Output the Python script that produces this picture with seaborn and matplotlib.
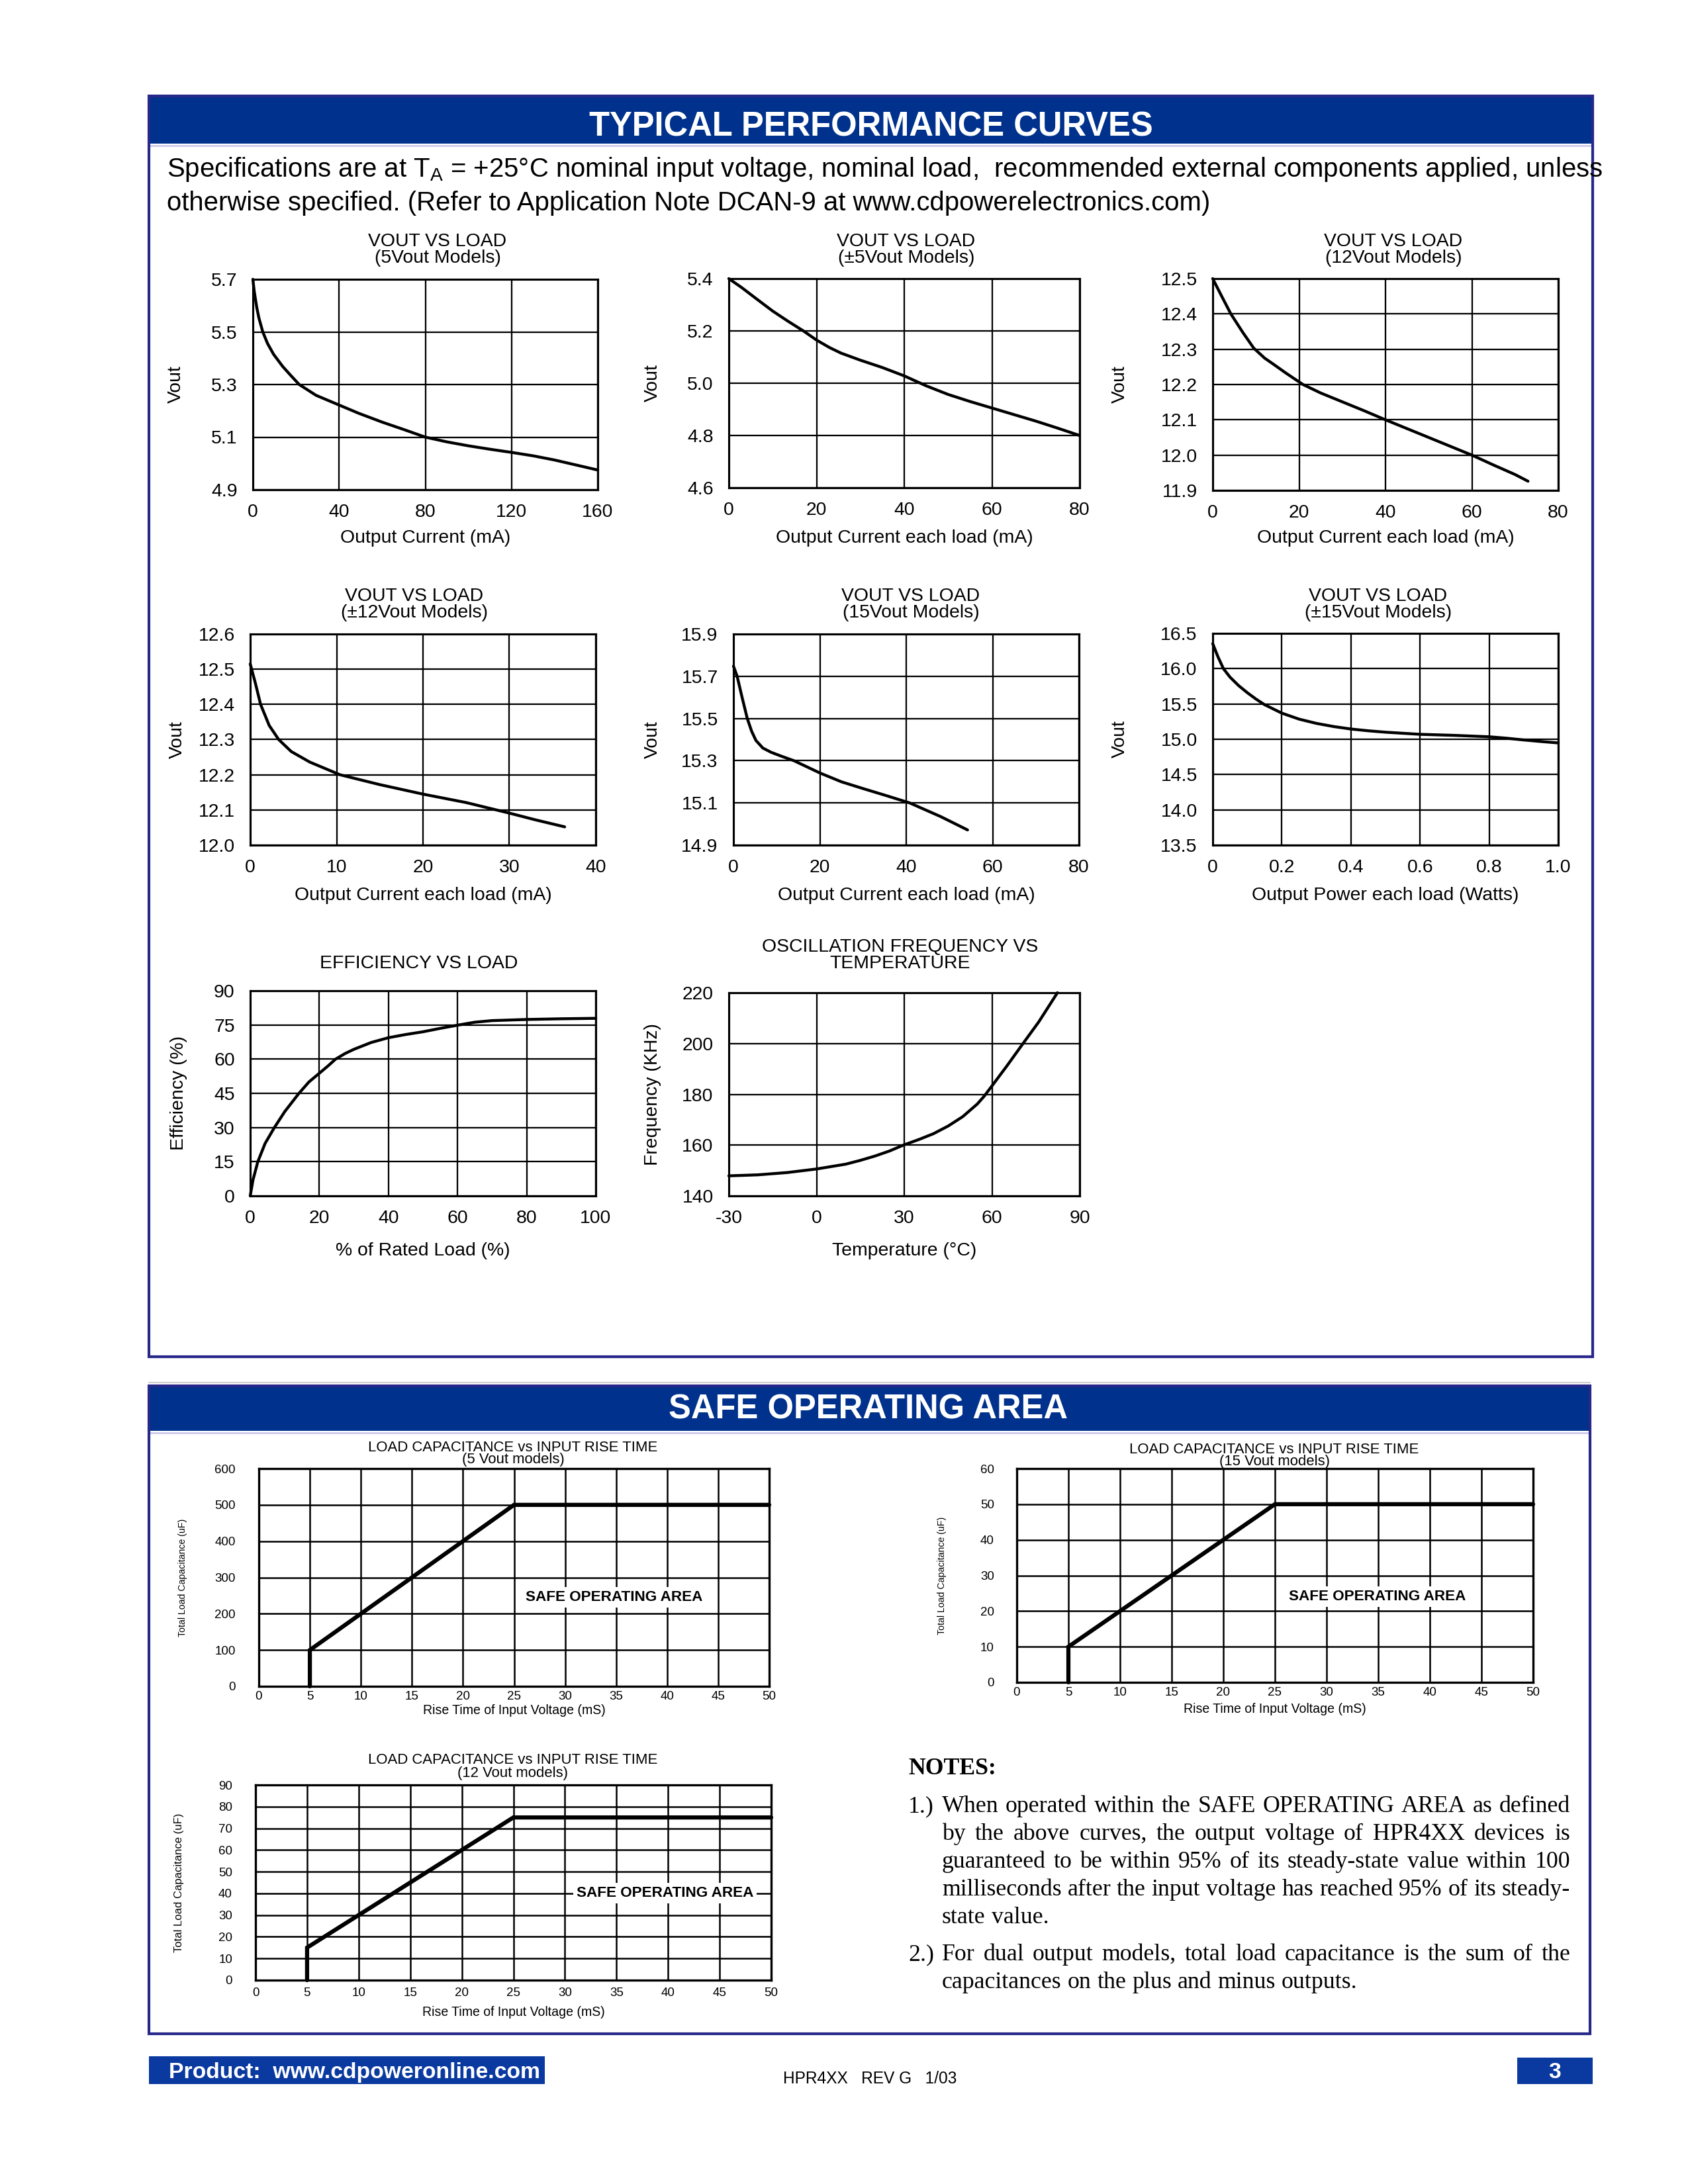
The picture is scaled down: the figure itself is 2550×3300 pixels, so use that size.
import matplotlib
matplotlib.use("Agg")
import matplotlib.pyplot as plt
from matplotlib.patches import Rectangle
from matplotlib.lines import Line2D
import seaborn as sns
import pandas as pd

# ---------------- data ----------------
# VOUT VS LOAD (5Vout Models)
v5_current = [0, 0.6, 1.8, 2.8, 4.6, 6.8, 9.6, 13.8, 17.3, 21.5, 29.3, 40, 49, 60, 70, 80,
              90, 100, 110, 120, 130, 140, 150, 160]
v5_vout = [5.70, 5.656, 5.593, 5.553, 5.50, 5.456, 5.415, 5.369, 5.337, 5.30, 5.259, 5.222,
           5.191, 5.157, 5.129, 5.10, 5.082, 5.067, 5.054, 5.042, 5.029, 5.013, 4.994, 4.975]

# VOUT VS LOAD (±5Vout Models)
d5_current = [0, 3, 6.2, 10, 13.5, 17, 20, 23, 25.6, 30, 35, 40, 45, 50, 55, 60, 65, 70, 75, 80]
d5_vout = [5.40, 5.365, 5.324, 5.276, 5.237, 5.20, 5.165, 5.136, 5.115, 5.088, 5.060, 5.028,
           4.99, 4.957, 4.93, 4.905, 4.88, 4.855, 4.828, 4.80]

# VOUT VS LOAD (12Vout Models)
v12_current = [0, 2, 4.2, 7, 9.5, 12, 14, 17, 20.9, 25, 30, 35, 40, 45, 50, 55, 60, 65, 70, 73]
v12_vout = [12.5, 12.452, 12.4, 12.347, 12.303, 12.275, 12.258, 12.232, 12.2, 12.176, 12.151,
            12.126, 12.1, 12.075, 12.05, 12.025, 12.0, 11.972, 11.945, 11.926]

# VOUT VS LOAD (±12Vout Models)
d12_current = [0, 0.6, 1.2, 2.2, 3.3, 4.75, 6.9, 10.4, 15, 20, 25, 28.5, 30, 33, 36.4]
d12_vout = [12.515, 12.46, 12.40, 12.34, 12.30, 12.266, 12.236, 12.20, 12.172, 12.145, 12.121,
            12.10, 12.091, 12.072, 12.052]

# VOUT VS LOAD (15Vout Models)
v15_current = [0, 0.85, 2, 3.2, 4.2, 5.2, 6.8, 8.7, 11, 14, 20, 25, 30, 35, 40.8, 48, 54.2]
v15_vout = [15.748, 15.70, 15.60, 15.50, 15.44, 15.396, 15.36, 15.34, 15.322, 15.30, 15.242,
            15.20, 15.168, 15.137, 15.10, 15.035, 14.972]

# VOUT VS LOAD (±15Vout Models)
d15_power = [0, 0.015, 0.031, 0.05, 0.075, 0.1, 0.125, 0.15, 0.2, 0.25, 0.3, 0.35, 0.4, 0.45,
             0.5, 0.6, 0.7, 0.8, 0.85, 0.9, 0.95, 1.0]
d15_vout = [16.355, 16.17, 16.0, 15.88, 15.76, 15.66, 15.57, 15.49, 15.37, 15.285, 15.225, 15.18,
            15.145, 15.12, 15.10, 15.07, 15.055, 15.035, 15.015, 14.99, 14.968, 14.948]

# EFFICIENCY VS LOAD
eff_load = [0, 0.8, 2.2, 4.3, 7, 10, 14.1, 17, 20, 22.5, 24.7, 27.5, 30, 35, 40, 45, 50, 55,
            60.4, 65, 70, 80, 90, 100]
eff_pct = [0, 7, 15, 23, 30, 37, 45, 50, 53.8, 57, 60, 62.5, 64.3, 67.3, 69.4, 70.8, 72, 73.5,
           75, 76.2, 76.9, 77.4, 77.7, 77.9]

# OSCILLATION FREQUENCY VS TEMPERATURE
osc_temp = [-30, -20, -10, 0, 10, 15, 20, 25, 29.7, 35, 40, 45, 50, 55, 57.3, 60, 65, 70, 76, 82.4]
osc_freq = [147.9, 148.3, 149.2, 150.6, 152.5, 154, 155.7, 157.7, 160, 162.2, 164.5, 167.5, 171.2,
            176.2, 179.2, 183.3, 191, 199, 208.5, 220]

# SAFE OPERATING AREA
soa_time = [5, 5, 25, 50]
soa5_cap = [0, 100, 500, 500]
soa15_cap = [0, 10, 50, 50]
soa12_cap = [0, 15, 75, 75]

# tick values / labels
t1_x = [0, 40, 80, 120, 160]
t1_y = [4.9, 5.1, 5.3, 5.5, 5.7]
t2_x = [0, 20, 40, 60, 80]
t2_y = [4.6, 4.8, 5.0, 5.2, 5.4]
t3_y = [11.9, 12.0, 12.1, 12.2, 12.3, 12.4, 12.5]
t4_x = [0, 10, 20, 30, 40]
t4_y = [12.0, 12.1, 12.2, 12.3, 12.4, 12.5, 12.6]
t5_y = [14.9, 15.1, 15.3, 15.5, 15.7, 15.9]
t6_x = [0, 0.2, 0.4, 0.6, 0.8, 1.0]
t6_xl = ["0", "0.2", "0.4", "0.6", "0.8", "1.0"]
t6_y = [13.5, 14.0, 14.5, 15.0, 15.5, 16.0, 16.5]
t7_x = [0, 20, 40, 60, 80, 100]
t7_y = [0, 15, 30, 45, 60, 75, 90]
t8_x = [-30, 0, 30, 60, 90]
t8_y = [140, 160, 180, 200, 220]
soa_x = list(range(0, 55, 5))
soa5_y = list(range(0, 700, 100))
soa15_y = list(range(0, 70, 10))
soa12_y = list(range(0, 100, 10))

notes_1 = ["When operated within the SAFE OPERATING  AREA as defined",
           "by the above curves, the output voltage of HPR4XX devices is",
           "guaranteed to be within 95% of its steady-state value within 100",
           "milliseconds after the input voltage has reached 95% of its steady-",
           "state value."]
notes_2 = ["For dual output models, total load capacitance is the sum of the",
           "capacitances on the plus and minus outputs."]

# ---------------- style ----------------
sns.set_theme(style="white")
plt.rcParams['font.family'] = ['Liberation Sans', 'DejaVu Sans']
plt.rcParams['mathtext.fontset'] = 'custom'
plt.rcParams['mathtext.rm'] = 'Liberation Sans'
plt.rcParams['mathtext.it'] = 'Liberation Sans:italic'
plt.rcParams['mathtext.bf'] = 'Liberation Sans:bold'

BAND = '#00318c'
BORDER = '#28288a'
FOOT = '#0a39a0'

W, H = 2550, 3300
fig = plt.figure(figsize=(W / 300, H / 300), dpi=300)
fig.patch.set_facecolor('white')


def fx(x):
    return x / W


def fy(y):
    return 1 - y / H


def frect(l, t, r, b, **kw):
    p = Rectangle((fx(l), fy(b)), (r - l) / W, (b - t) / H, transform=fig.transFigure, **kw)
    fig.add_artist(p)
    return p


def fline(x0, y0, x1, y1, **kw):
    ln = Line2D([fx(x0), fx(x1)], [fy(y0), fy(y1)], transform=fig.transFigure, **kw)
    fig.add_artist(ln)


def fmt1(v):
    return [f"{a:.1f}" for a in v]


def ints(v):
    return [str(a) for a in v]


def perf_chart(box, xs, ys, xticks, xtl, yticks, ytl, xlabel, ylabel,
               title_lines, title_x, title_bases, xlab_cy, ylab_cx, fs=6.8):
    l, t, r, b = box
    ax = fig.add_axes([fx(l), fy(b), (r - l) / W, (b - t) / H])
    df = pd.DataFrame({'x': xs, 'y': ys})
    sns.lineplot(data=df, x='x', y='y', ax=ax, color='black', linewidth=1.05,
                 estimator=None, sort=False, zorder=3)
    ax.lines[-1].set_clip_on(False)
    ax.lines[-1].set_solid_joinstyle('round')
    ax.set_xlim(xticks[0], xticks[-1])
    ax.set_ylim(yticks[0], yticks[-1])
    ax.set_xticks(xticks, labels=xtl)
    ax.set_yticks(yticks, labels=ytl)
    ax.grid(True, color='black', linewidth=0.55)
    ax.set_axisbelow(True)
    for s in ax.spines.values():
        s.set_visible(True)
        s.set_color('black')
        s.set_linewidth(0.75)
    ax.tick_params(axis='both', length=0, labelsize=fs, colors='black')
    ax.tick_params(axis='y', pad=5.6)
    ax.tick_params(axis='x', pad=5.0)
    ax.set_xlabel(xlabel, fontsize=fs, color='black')
    ax.set_ylabel(ylabel, fontsize=fs, color='black')
    ax.xaxis.label.set_va('center')
    ax.yaxis.label.set_va('center')
    ax.xaxis.set_label_coords(0.5, (b - xlab_cy) / (b - t))
    ax.yaxis.set_label_coords((ylab_cx - l) / (r - l), 0.5)
    for line, base in zip(title_lines, title_bases):
        fig.text(fx(title_x), fy(base), line, ha='center', va='baseline', fontsize=fs, color='black')
    return ax


def soa_chart(box, caps, yticks, title_lines, title_x, title_bases, label_xy,
              ylab_cx, ylab_fs, xlab_cy, xpad, ypad):
    l, t, r, b = box
    ax = fig.add_axes([fx(l), fy(b), (r - l) / W, (b - t) / H])
    df = pd.DataFrame({'t': soa_time, 'c': caps})
    sns.lineplot(data=df, x='t', y='c', ax=ax, color='black', linewidth=1.5,
                 estimator=None, sort=False, zorder=3)
    ax.lines[-1].set_clip_on(False)
    ax.lines[-1].set_solid_joinstyle('miter')
    ax.set_xlim(0, 50)
    ax.set_ylim(yticks[0], yticks[-1])
    ax.set_xticks(soa_x, labels=ints(soa_x))
    ax.set_yticks(yticks, labels=ints(yticks))
    ax.grid(True, color='black', linewidth=0.6)
    ax.set_axisbelow(True)
    for s in ax.spines.values():
        s.set_visible(True)
        s.set_color('black')
        s.set_linewidth(0.8)
    ax.tick_params(axis='both', length=0, labelsize=4.5, colors='black')
    ax.tick_params(axis='x', pad=xpad)
    ax.tick_params(axis='y', pad=ypad)
    ax.set_xlabel("Rise Time of Input Voltage (mS)", fontsize=4.7, color='black')
    ax.set_ylabel("Total Load Capacitance (uF)", fontsize=ylab_fs, color='black')
    ax.xaxis.label.set_va('center')
    ax.yaxis.label.set_va('center')
    ax.xaxis.set_label_coords(0.5, (b - xlab_cy) / (b - t))
    ax.yaxis.set_label_coords((ylab_cx - l) / (r - l), 0.5)
    ax.text(label_xy[0], label_xy[1], "SAFE OPERATING AREA", ha='center', va='center',
            fontsize=5.4, fontweight='bold', color='black', zorder=4,
            bbox=dict(facecolor='white', edgecolor='none', pad=1.2))
    for line, base in zip(title_lines, title_bases):
        fig.text(fx(title_x), fy(base), line, ha='center', va='baseline', fontsize=5.3, color='black')
    return ax


# ---------------- page frame: TYPICAL PERFORMANCE CURVES ----------------
frect(225, 147, 2406, 217, facecolor=BAND, edgecolor='none', zorder=1)
fline(225, 220, 2406, 220, color='#c9c3ea', linewidth=0.6, zorder=1)
frect(225, 145, 2406, 2050, facecolor='none', edgecolor=BORDER, linewidth=1.0, zorder=2)
fig.text(fx(1316), fy(206), "TYPICAL PERFORMANCE CURVES", ha='center', va='baseline',
         fontsize=12.2, fontweight='bold', color='white', zorder=3)

fig.text(fx(252), fy(267),
         r"Specifications are at $\mathregular{T_A}$ = +25°C nominal input voltage, nominal load,  "
         r"recommended external components applied, unless",
         ha='left', va='baseline', fontsize=9.65, color='black')
fig.text(fx(252), fy(318),
         "otherwise specified. (Refer to Application Note DCAN-9 at www.cdpowerelectronics.com)",
         ha='left', va='baseline', fontsize=9.65, color='black')

# ---------------- performance charts ----------------
perf_chart((382, 422, 903, 740), v5_current, v5_vout, t1_x, ints(t1_x), t1_y, fmt1(t1_y),
           "Output Current (mA)", "Vout", ["VOUT VS LOAD", "(5Vout Models)"], 661, (372, 397), 813, 266)
perf_chart((1101, 421, 1631, 737), d5_current, d5_vout, t2_x, ints(t2_x), t2_y, fmt1(t2_y),
           "Output Current each load (mA)", "Vout", ["VOUT VS LOAD", "(±5Vout Models)"], 1369, (372, 397), 813, 986)
perf_chart((1832, 421, 2354, 741), v12_current, v12_vout, t2_x, ints(t2_x), t3_y, fmt1(t3_y),
           "Output Current each load (mA)", "Vout", ["VOUT VS LOAD", "(12Vout Models)"], 2105, (372, 397), 813, 1692)

perf_chart((378, 958, 900, 1277), d12_current, d12_vout, t4_x, ints(t4_x), t4_y, fmt1(t4_y),
           "Output Current each load (mA)", "Vout", ["VOUT VS LOAD", "(±12Vout Models)"], 626, (908, 933), 1353, 268)
perf_chart((1108, 958, 1630, 1277), v15_current, v15_vout, t2_x, ints(t2_x), t5_y, fmt1(t5_y),
           "Output Current each load (mA)", "Vout", ["VOUT VS LOAD", "(15Vout Models)"], 1376, (908, 933), 1353, 986)
perf_chart((1832, 957, 2354, 1277), d15_power, d15_vout, t6_x, t6_xl, t6_y, fmt1(t6_y),
           "Output Power each load (Watts)", "Vout", ["VOUT VS LOAD", "(±15Vout Models)"], 2082, (908, 933), 1353, 1692)

perf_chart((378, 1497, 900, 1807), eff_load, eff_pct, t7_x, ints(t7_x), t7_y, ints(t7_y),
           "% of Rated Load (%)", "Efficiency (%)", ["EFFICIENCY VS LOAD"], 633, (1463,), 1890, 270)
perf_chart((1101, 1500, 1631, 1807), osc_temp, osc_freq, t8_x, ints(t8_x), t8_y, ints(t8_y),
           "Temperature (°C)", "Frequency (KHz)", ["OSCILLATION FREQUENCY VS", "TEMPERATURE"], 1360,
           (1438, 1463), 1890, 986)

# ---------------- SAFE OPERATING AREA ----------------
fline(225, 2089, 2402, 2089, color='#cfcfcf', linewidth=0.5, zorder=1)
frect(225, 2094, 2402, 2162, facecolor=BAND, edgecolor='none', zorder=1)
fline(225, 2165, 2402, 2165, color='#c9c3ea', linewidth=0.6, zorder=1)
frect(225, 2094, 2402, 3073, facecolor='none', edgecolor=BORDER, linewidth=1.0, zorder=2)
fig.text(fx(1311), fy(2143), "SAFE OPERATING AREA", ha='center', va='baseline',
         fontsize=12.2, fontweight='bold', color='white', zorder=3)

soa_chart((391, 2219, 1162, 2548), soa5_cap, soa5_y,
          ["LOAD CAPACITANCE vs INPUT RISE TIME", "(5 Vout models)"], 775, (2193, 2211),
          (34.8, 246), 276, 3.4, 2585, 1.8, 8.4)
soa_chart((1536, 2219, 2316, 2542), soa15_cap, soa15_y,
          ["LOAD CAPACITANCE vs INPUT RISE TIME", "(15 Vout models)"], 1925, (2196, 2214),
          (34.9, 24.1), 1423, 3.4, 2583, 1.7, 8.2)
soa_chart((386, 2697, 1165, 2992), soa12_cap, soa12_y,
          ["LOAD CAPACITANCE vs INPUT RISE TIME", "(12 Vout models)"], 775, (2665, 2685),
          (39.7, 40), 270, 4.0, 3040, 2.6, 8.4)

# ---------------- NOTES (justified serif text) ----------------
renderer = fig.canvas.get_renderer()
SERIF = ['Liberation Serif', 'DejaVu Serif']
NFS = 8.6


def word_width(s):
    t = fig.text(0, 0, s, fontsize=NFS, family=SERIF)
    w = t.get_window_extent(renderer).width
    t.remove()
    return w


space_w = word_width("a a") - word_width("aa")


def place_line(line, x0, x1, base, justify):
    words = line.split()
    widths = [word_width(w) for w in words]
    if justify and len(words) > 1:
        gap = (x1 - x0 - sum(widths)) / (len(words) - 1)
    else:
        gap = space_w
    x = x0
    for w, wd in zip(words, widths):
        fig.text(fx(x), fy(base), w, fontsize=NFS, family=SERIF, ha='left', va='baseline', color='black')
        x += wd + gap


fig.text(fx(1372), fy(2681), "NOTES:", fontsize=NFS, family=SERIF, fontweight='bold',
         ha='left', va='baseline', color='black')
fig.text(fx(1372), fy(2738), "1.)", fontsize=NFS, family=SERIF, ha='left', va='baseline', color='black')
bases1 = [2738, 2780, 2822, 2864, 2906]
for i, (ln, bs) in enumerate(zip(notes_1, bases1)):
    place_line(ln, 1423, 2372, bs, justify=(i < len(notes_1) - 1))
fig.text(fx(1372), fy(2962), "2.)", fontsize=NFS, family=SERIF, ha='left', va='baseline', color='black')
bases2 = [2962, 3004]
for i, (ln, bs) in enumerate(zip(notes_2, bases2)):
    place_line(ln, 1423, 2372, bs, justify=(i < len(notes_2) - 1))

# ---------------- footer ----------------
frect(225, 3107, 823, 3149, facecolor=FOOT, edgecolor='none')
fig.text(fx(255), fy(3140), "Product:  www.cdpoweronline.com", ha='left', va='baseline',
         fontsize=8.1, fontweight='bold', color='white')
fig.text(fx(1314), fy(3148), "HPR4XX   REV G   1/03", ha='center', va='baseline',
         fontsize=5.9, color='black')
frect(2292, 3109, 2406, 3149, facecolor=FOOT, edgecolor='none')
fig.text(fx(2349), fy(3140), "3", ha='center', va='baseline', fontsize=8.1,
         fontweight='bold', color='white')

fig.savefig("out.png", dpi=300, facecolor='white')
